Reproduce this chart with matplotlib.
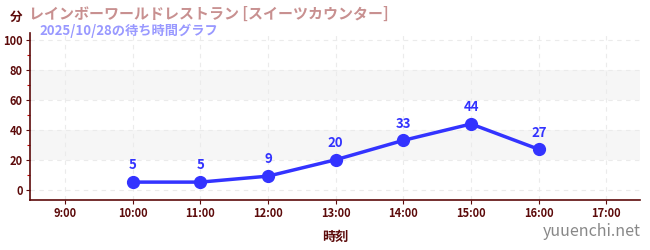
import matplotlib
matplotlib.use("Agg")
import matplotlib.pyplot as plt
import matplotlib.ticker as mticker

plt.rcParams["font.family"] = ["Noto Sans CJK JP", "DejaVu Sans"]

# ---------------------------------------------------------------- data
hours = [10, 11, 12, 13, 14, 15, 16]
waits = [5, 5, 9, 20, 33, 44, 27]
xtick_hours = [9, 10, 11, 12, 13, 14, 15, 16, 17]
xtick_labels = [f"{h}:00" for h in xtick_hours]
ytick_values = [0, 20, 40, 60, 80, 100]
bands = [(20, 40), (60, 80)]

title = "レインボーワールドレストラン [スイーツカウンター]"
subtitle = "2025/10/28の待ち時間グラフ"

DARK = "#5c0a0a"
BLUE = "#3333ff"

fig = plt.figure(figsize=(6.5, 2.5), dpi=100)
ax = fig.add_axes([0.046, 0.2, 0.939, 0.668])

for lo, hi in bands:
    ax.axhspan(lo, hi, color="#f6f6f6", zorder=0, lw=0)

ax.plot(hours, waits, color=BLUE, lw=2.5, marker="o", markersize=8.5, zorder=4,
        solid_capstyle="round")
for x, y in zip(hours, waits):
    ax.annotate(str(y), xy=(x, y), xytext=(0, 7), textcoords="offset points",
                ha="center", va="bottom", fontsize=9.5, fontweight="bold",
                color=BLUE, zorder=5)

ax.set_xlim(8.48, 17.5)
ax.set_ylim(-7, 105)
ax.set_xticks(xtick_hours)
ax.set_xticklabels(xtick_labels)
ax.set_yticks(ytick_values)
ax.yaxis.set_minor_locator(mticker.MultipleLocator(10))
ax.tick_params(axis="both", which="major", labelsize=8, colors=DARK,
               length=3, width=0.8, pad=2)
ax.tick_params(axis="y", which="minor", length=2, color="#cc0000", width=0.8)
for lab in ax.get_xticklabels() + ax.get_yticklabels():
    lab.set_fontweight("bold")

ax.grid(True, which="major", color="#ebebeb", linestyle=(0, (4, 4)), lw=0.8, zorder=1)
for side in ("top", "right"):
    ax.spines[side].set_visible(False)
for side in ("left", "bottom"):
    ax.spines[side].set_color(DARK)
    ax.spines[side].set_linewidth(1.2)

ax.set_xlabel("時刻", fontsize=9.5, fontweight="bold", color=DARK, labelpad=7)

fig.text(0.015, 0.93, "分", fontsize=9, fontweight="bold", color=DARK, va="center")
fig.text(0.044, 0.945, title, fontsize=10.8, fontweight="bold", color="#c89090", va="center")
fig.text(0.061, 0.875, subtitle, fontsize=9.5, fontweight="bold", color="#9999ff", va="center")
fig.text(0.986, 0.075, "yuuenchi.net", fontsize=11.5, color="#888888", ha="right", va="center")

fig.savefig("out.png", dpi=100)
